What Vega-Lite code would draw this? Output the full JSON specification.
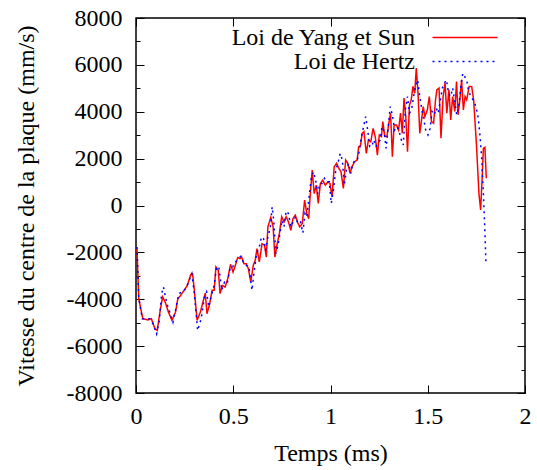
{
  "$schema": "https://vega.github.io/schema/vega-lite/v6.json",
  "width": 389,
  "height": 375,
  "autosize": "none",
  "padding": {"left": 136, "top": 18, "right": 12, "bottom": 77},
  "background": "white",
  "config": {
    "font": "Liberation Serif",
    "view": {"stroke": "black", "strokeWidth": 1.5},
    "axis": {"domain": false, "grid": false, "tickColor": "black", "tickWidth": 1, "labelFont": "Liberation Serif", "labelFontSize": 24, "labelColor": "black", "titleFont": "Liberation Serif", "titleFontSize": 24, "titleFontWeight": "normal", "titleColor": "black", "labelFlush": false, "labelOverlap": false}
  },
  "datasets": {
    "yang": [
      {"t":0.005,"v":-1840},{"t":0.014,"v":-3980},{"t":0.035,"v":-4830},{"t":0.062,"v":-4880},{"t":0.079,"v":-4830},{"t":0.097,"v":-5260},{"t":0.109,"v":-5330},{"t":0.123,"v":-4550},{"t":0.137,"v":-3900},{"t":0.150,"v":-4120},{"t":0.167,"v":-4550},{"t":0.185,"v":-4900},{"t":0.203,"v":-4550},{"t":0.215,"v":-3980},{"t":0.229,"v":-3840},{"t":0.247,"v":-3620},{"t":0.264,"v":-3410},{"t":0.282,"v":-2940},{"t":0.291,"v":-2910},{"t":0.300,"v":-3620},{"t":0.314,"v":-4900},{"t":0.331,"v":-4550},{"t":0.344,"v":-4120},{"t":0.356,"v":-3740},{"t":0.365,"v":-4620},{"t":0.379,"v":-4190},{"t":0.391,"v":-3620},{"t":0.402,"v":-3620},{"t":0.411,"v":-2620},{"t":0.423,"v":-2770},{"t":0.432,"v":-3760},{"t":0.444,"v":-3410},{"t":0.458,"v":-3480},{"t":0.472,"v":-3120},{"t":0.486,"v":-2510},{"t":0.499,"v":-2840},{"t":0.511,"v":-2550},{"t":0.523,"v":-2220},{"t":0.534,"v":-2270},{"t":0.543,"v":-2200},{"t":0.555,"v":-2480},{"t":0.567,"v":-2480},{"t":0.578,"v":-2700},{"t":0.590,"v":-3270},{"t":0.603,"v":-2550},{"t":0.613,"v":-2340},{"t":0.622,"v":-1840},{"t":0.634,"v":-2410},{"t":0.648,"v":-1630},{"t":0.661,"v":-1700},{"t":0.670,"v":-2200},{"t":0.678,"v":-910},{"t":0.693,"v":-510},{"t":0.705,"v":-910},{"t":0.714,"v":-2200},{"t":0.726,"v":-1630},{"t":0.737,"v":-1200},{"t":0.749,"v":-480},{"t":0.761,"v":-700},{"t":0.772,"v":-480},{"t":0.784,"v":-700},{"t":0.796,"v":-1060},{"t":0.807,"v":-560},{"t":0.819,"v":-410},{"t":0.832,"v":-740},{"t":0.842,"v":-910},{"t":0.855,"v":-770},{"t":0.867,"v":230},{"t":0.878,"v":-340},{"t":0.888,"v":-560},{"t":0.895,"v":370},{"t":0.906,"v":1510},{"t":0.916,"v":510},{"t":0.927,"v":870},{"t":0.937,"v":90},{"t":0.948,"v":940},{"t":0.960,"v":1080},{"t":0.973,"v":870},{"t":0.987,"v":1010},{"t":0.997,"v":940},{"t":1.008,"v":370},{"t":1.019,"v":1650},{"t":1.031,"v":1800},{"t":1.043,"v":1580},{"t":1.054,"v":1440},{"t":1.066,"v":730},{"t":1.078,"v":1940},{"t":1.089,"v":1800},{"t":1.101,"v":1370},{"t":1.110,"v":1650},{"t":1.124,"v":1870},{"t":1.137,"v":1940},{"t":1.145,"v":2510},{"t":1.154,"v":2540},{"t":1.163,"v":3080},{"t":1.172,"v":3150},{"t":1.184,"v":2220},{"t":1.195,"v":2800},{"t":1.207,"v":2720},{"t":1.219,"v":3290},{"t":1.230,"v":2940},{"t":1.241,"v":2150},{"t":1.251,"v":3010},{"t":1.262,"v":2940},{"t":1.269,"v":3580},{"t":1.279,"v":2940},{"t":1.290,"v":2940},{"t":1.300,"v":3510},{"t":1.309,"v":3940},{"t":1.318,"v":2080},{"t":1.327,"v":3440},{"t":1.339,"v":3440},{"t":1.350,"v":3220},{"t":1.360,"v":3940},{"t":1.369,"v":3080},{"t":1.378,"v":4580},{"t":1.387,"v":3790},{"t":1.396,"v":2300},{"t":1.406,"v":4290},{"t":1.415,"v":4510},{"t":1.424,"v":5080},{"t":1.433,"v":4790},{"t":1.441,"v":5860},{"t":1.450,"v":4790},{"t":1.459,"v":3080},{"t":1.468,"v":3650},{"t":1.477,"v":4220},{"t":1.485,"v":3790},{"t":1.498,"v":4080},{"t":1.508,"v":4650},{"t":1.519,"v":3580},{"t":1.530,"v":3510},{"t":1.540,"v":4510},{"t":1.547,"v":4940},{"t":1.558,"v":5010},{"t":1.568,"v":2870},{"t":1.579,"v":4650},{"t":1.589,"v":5220},{"t":1.598,"v":3940},{"t":1.609,"v":4940},{"t":1.618,"v":3650},{"t":1.628,"v":4650},{"t":1.639,"v":4010},{"t":1.648,"v":5290},{"t":1.656,"v":3870},{"t":1.665,"v":4510},{"t":1.674,"v":5360},{"t":1.683,"v":4080},{"t":1.692,"v":4650},{"t":1.700,"v":4510},{"t":1.713,"v":5080},{"t":1.726,"v":5070},{"t":1.736,"v":4500},{"t":1.751,"v":2510},{"t":1.763,"v":520},{"t":1.772,"v":-190},{"t":1.780,"v":1230},{"t":1.786,"v":2440},{"t":1.794,"v":2480},{"t":1.801,"v":1160}
    ],
    "hertz": [
      {"t":0.005,"v":-1770},{"t":0.014,"v":-3900},{"t":0.032,"v":-4830},{"t":0.070,"v":-4830},{"t":0.088,"v":-5050},{"t":0.106,"v":-5480},{"t":0.120,"v":-4900},{"t":0.132,"v":-3760},{"t":0.141,"v":-3480},{"t":0.159,"v":-4190},{"t":0.176,"v":-4620},{"t":0.190,"v":-4980},{"t":0.203,"v":-4480},{"t":0.220,"v":-3760},{"t":0.238,"v":-3690},{"t":0.256,"v":-3550},{"t":0.273,"v":-3200},{"t":0.287,"v":-2910},{"t":0.300,"v":-3760},{"t":0.317,"v":-5330},{"t":0.335,"v":-4830},{"t":0.352,"v":-3900},{"t":0.363,"v":-3690},{"t":0.374,"v":-4330},{"t":0.388,"v":-3830},{"t":0.402,"v":-3410},{"t":0.414,"v":-2620},{"t":0.426,"v":-2620},{"t":0.441,"v":-3620},{"t":0.455,"v":-3270},{"t":0.469,"v":-3340},{"t":0.485,"v":-2620},{"t":0.497,"v":-2620},{"t":0.511,"v":-2410},{"t":0.525,"v":-2270},{"t":0.539,"v":-2170},{"t":0.555,"v":-2480},{"t":0.567,"v":-2550},{"t":0.581,"v":-2620},{"t":0.596,"v":-3620},{"t":0.608,"v":-2770},{"t":0.620,"v":-2050},{"t":0.634,"v":-1770},{"t":0.645,"v":-1340},{"t":0.656,"v":-1410},{"t":0.666,"v":-1910},{"t":0.678,"v":-1340},{"t":0.691,"v":-910},{"t":0.700,"v":-60},{"t":0.708,"v":-630},{"t":0.719,"v":-2050},{"t":0.730,"v":-1700},{"t":0.740,"v":-1200},{"t":0.751,"v":-630},{"t":0.761,"v":-910},{"t":0.772,"v":-230},{"t":0.784,"v":-340},{"t":0.796,"v":-910},{"t":0.811,"v":-630},{"t":0.821,"v":-480},{"t":0.832,"v":-770},{"t":0.846,"v":-700},{"t":0.858,"v":-1170},{"t":0.869,"v":-340},{"t":0.878,"v":-480},{"t":0.890,"v":370},{"t":0.902,"v":1230},{"t":0.913,"v":1440},{"t":0.925,"v":1010},{"t":0.934,"v":510},{"t":0.946,"v":940},{"t":0.957,"v":940},{"t":0.969,"v":1160},{"t":0.981,"v":1010},{"t":0.994,"v":1010},{"t":1.004,"v":90},{"t":1.015,"v":660},{"t":1.027,"v":1510},{"t":1.040,"v":1870},{"t":1.050,"v":2220},{"t":1.061,"v":1940},{"t":1.071,"v":870},{"t":1.082,"v":1510},{"t":1.093,"v":1800},{"t":1.105,"v":1370},{"t":1.115,"v":1800},{"t":1.128,"v":1940},{"t":1.138,"v":1940},{"t":1.149,"v":2370},{"t":1.159,"v":2940},{"t":1.170,"v":3360},{"t":1.181,"v":3790},{"t":1.191,"v":3220},{"t":1.202,"v":2510},{"t":1.212,"v":2510},{"t":1.223,"v":2800},{"t":1.233,"v":2510},{"t":1.244,"v":2650},{"t":1.255,"v":2800},{"t":1.265,"v":3360},{"t":1.276,"v":3150},{"t":1.286,"v":2440},{"t":1.297,"v":3360},{"t":1.307,"v":4220},{"t":1.318,"v":3870},{"t":1.330,"v":3220},{"t":1.343,"v":3360},{"t":1.353,"v":3150},{"t":1.364,"v":2800},{"t":1.374,"v":2580},{"t":1.385,"v":4080},{"t":1.396,"v":4650},{"t":1.406,"v":3940},{"t":1.417,"v":4080},{"t":1.427,"v":4650},{"t":1.438,"v":5080},{"t":1.448,"v":5360},{"t":1.459,"v":4650},{"t":1.470,"v":4080},{"t":1.480,"v":3650},{"t":1.491,"v":3150},{"t":1.501,"v":3010},{"t":1.512,"v":3290},{"t":1.522,"v":4010},{"t":1.533,"v":3870},{"t":1.544,"v":4150},{"t":1.554,"v":3940},{"t":1.565,"v":4510},{"t":1.575,"v":5010},{"t":1.586,"v":5220},{"t":1.596,"v":5360},{"t":1.607,"v":4790},{"t":1.618,"v":4650},{"t":1.628,"v":5010},{"t":1.639,"v":4440},{"t":1.649,"v":3870},{"t":1.660,"v":4220},{"t":1.670,"v":5080},{"t":1.680,"v":5640},{"t":1.700,"v":5355},{"t":1.709,"v":4930},{"t":1.721,"v":4640},{"t":1.734,"v":4500},{"t":1.748,"v":4215},{"t":1.760,"v":3720},{"t":1.769,"v":2935},{"t":1.777,"v":2080},{"t":1.786,"v":520},{"t":1.793,"v":-900},{"t":1.799,"v":-2440}
    ]
  },
  "layer": [
    {
      "mark": {"type": "rule", "stroke": "black", "strokeWidth": 1, "strokeDash": [1.5, 3]},
      "encoding": {
        "y": {"datum": 0, "type": "quantitative", "scale": {"domain": [-8000, 8000], "nice": false}, "axis": null}
      }
    },
    {
      "data": {"name": "yang"},
      "transform": [{"calculate": "'Loi de Yang et Sun'", "as": "serie"}],
      "mark": {"type": "line", "strokeWidth": 1.5, "interpolate": "linear"},
      "encoding": {
        "x": {"field": "t", "type": "quantitative", "scale": {"domain": [0, 2], "nice": false},
          "axis": {"orient": "bottom", "values": [0, 0.5, 1, 1.5, 2], "labelExpr": "'' + datum.value", "tickSize": -8, "labelPadding": 38, "labelBaseline": "alphabetic", "title": "Temps (ms)", "titleBaseline": "alphabetic", "titleY": 67}},
        "y": {"field": "v", "type": "quantitative", "scale": {"domain": [-8000, 8000], "nice": false},
          "axis": {"orient": "left", "values": [-8000,-7000,-6000,-5000,-4000,-3000,-2000,-1000,0,1000,2000,3000,4000,5000,6000,7000,8000], "labelExpr": "datum.value % 2000 == 0 ? '' + datum.value : ''", "tickSize": {"condition": {"test": "datum.value % 2000 == 0", "value": -8}, "value": -4}, "labelPadding": 22, "title": "Vitesse du centre de la plaque (mm/s)", "titleX": -110, "titleY": 187.5, "titleBaseline": "middle", "titleAngle": 270}},
        "color": {"field": "serie", "type": "nominal", "scale": {"domain": ["Loi de Yang et Sun", "Loi de Hertz"], "range": ["#ff0000", "#0000ff"]},
          "legend": {"orient": "none", "legendX": 317, "legendY": 7.5, "title": null, "labelFont": "Liberation Serif", "labelFontSize": 24, "labelColor": "black", "labelAlign": "right", "labelOffset": -62, "labelLimit": 0, "symbolType": "M-5,0H5", "symbolSize": 169, "symbolStrokeWidth": 1.5, "rowPadding": 0}},
        "strokeDash": {"field": "serie", "type": "nominal", "scale": {"domain": ["Loi de Yang et Sun", "Loi de Hertz"], "range": [[1, 0], [2, 4]]}, "legend": null}
      }
    },
    {
      "data": {"name": "hertz"},
      "transform": [{"calculate": "'Loi de Hertz'", "as": "serie"}],
      "mark": {"type": "line", "strokeWidth": 1.5, "interpolate": "linear"},
      "encoding": {
        "x": {"field": "t", "type": "quantitative", "scale": {"domain": [0, 2], "nice": false},
          "axis": {"orient": "top", "values": [0, 0.5, 1, 1.5, 2], "labels": false, "tickSize": -8, "title": null}},
        "y": {"field": "v", "type": "quantitative", "scale": {"domain": [-8000, 8000], "nice": false},
          "axis": {"orient": "right", "values": [-8000,-7000,-6000,-5000,-4000,-3000,-2000,-1000,0,1000,2000,3000,4000,5000,6000,7000,8000], "labels": false, "tickSize": {"condition": {"test": "datum.value % 2000 == 0", "value": -8}, "value": -4}, "title": null}},
        "color": {"field": "serie", "type": "nominal", "scale": {"domain": ["Loi de Yang et Sun", "Loi de Hertz"], "range": ["#ff0000", "#0000ff"]}},
        "strokeDash": {"field": "serie", "type": "nominal", "scale": {"domain": ["Loi de Yang et Sun", "Loi de Hertz"], "range": [[1, 0], [2, 4]]}, "legend": null}
      }
    }
  ],
  "resolve": {"axis": {"x": "independent", "y": "independent"}}
}
